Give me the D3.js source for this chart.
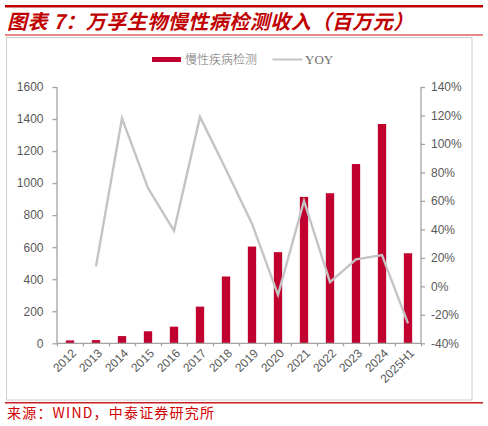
<!DOCTYPE html>
<html>
<head>
<meta charset="utf-8">
<script src="https://cdn.jsdelivr.net/npm/d3@7/dist/d3.min.js"></script>
<style>
  html, body { margin: 0; padding: 0; background: #fff; }
  svg { display: block; }
</style>
</head>
<body>
<svg id="chart" width="488" height="426"></svg>
<script>
// ---- data ----
const categories = ["2012","2013","2014","2015","2016","2017","2018","2019","2020","2021","2022","2023","2024","2025H1"];
const revenue = [18, 20, 45, 75, 104, 229, 417, 604, 569, 914, 937, 1119, 1369, 562];
const yoy = [null, 14, 118, 69, 39, 119, 82, 44, -6, 60, 3, 19, 22, -26];
const leftTicks = [0, 200, 400, 600, 800, 1000, 1200, 1400, 1600];
const rightTicks = [-40, -20, 0, 20, 40, 60, 80, 100, 120, 140];
const titleText = "图表 7：万孚生物慢性病检测收入（百万元）";
const sourceText = "来源：WIND，中泰证券研究所";
const legendBar = "慢性疾病检测";
const legendLine = "YOY";

const svg = d3.select("#chart");
const red = "#c0002f";
const titleRed = "#c00000";
const axisGray = "#a3a3a3";
const textGray = "#595959";

// header
svg.append("line").attr("x1", 5).attr("x2", 483).attr("y1", 6.3).attr("y2", 6.3)
  .attr("stroke", titleRed).attr("stroke-width", 2.4);
svg.append("line").attr("x1", 5).attr("x2", 483).attr("y1", 35).attr("y2", 35)
  .attr("stroke", "#d01010").attr("stroke-width", 1);
svg.append("text").attr("x", 7).attr("y", 29)
  .attr("font-family", "'Noto Sans CJK SC', sans-serif")
  .attr("font-size", 20).attr("font-weight", "bold").attr("font-style", "italic")
  .attr("fill", titleRed).attr("letter-spacing", 0.5)
  .text(titleText);

// frame
svg.append("rect").attr("x", 6.5).attr("y", 37.5).attr("width", 465.5).attr("height", 362.5)
  .attr("fill", "none").attr("stroke", "#cccccc").attr("stroke-width", 1);

// footer
svg.append("line").attr("x1", 5).attr("x2", 483).attr("y1", 402.7).attr("y2", 402.7)
  .attr("stroke", "#c82020").attr("stroke-width", 1.6);
svg.append("text").attr("x", 7).attr("y", 418)
  .attr("font-family", "'Noto Sans CJK SC', sans-serif")
  .attr("font-size", 14).attr("fill", "#d00000").attr("letter-spacing", 1.2)
  .text(sourceText);

// scales
const x = d3.scaleBand().domain(categories).range([57, 421]).paddingInner(0.68).paddingOuter(0.34);
const yL = d3.scaleLinear().domain([0, 1600]).range([343.3, 87]);
const yR = d3.scaleLinear().domain([-40, 140]).range([343.3, 87]);

// bars
svg.append("g").selectAll("rect").data(categories).join("rect")
  .attr("x", (d) => x(d))
  .attr("width", x.bandwidth())
  .attr("y", (d, i) => yL(revenue[i]))
  .attr("height", (d, i) => yL(0) - yL(revenue[i]))
  .attr("fill", red);

// line
const pts = categories.map((c, i) => ({c, v: yoy[i]}));
const line = d3.line().defined(d => d.v !== null)
  .x(d => x(d.c) + x.bandwidth() / 2).y(d => yR(d.v));
svg.append("path").datum(pts).attr("d", line)
  .attr("fill", "none").attr("stroke", "#c4c4c4").attr("stroke-width", 2.4)
  .attr("stroke-linejoin", "miter");

// left axis
const gL = svg.append("g").attr("transform", "translate(57,0)")
  .call(d3.axisLeft(yL).tickValues(leftTicks).tickSize(4.5).tickPadding(9).tickFormat(d3.format("d")));
// right axis
const gR = svg.append("g").attr("transform", "translate(421,0)")
  .call(d3.axisRight(yR).tickValues(rightTicks).tickSize(4).tickPadding(6).tickFormat(d => d + "%"));
// bottom axis
const bandEdges = categories.map(c => x(c) - x.step() * x.paddingInner() / 2).concat([421]);
const xEdge = d3.scaleLinear().domain([57, 421]).range([57, 421]);
const gB = svg.append("g").attr("transform", "translate(0,343.3)")
  .call(d3.axisBottom(xEdge).tickValues(bandEdges).tickSize(3).tickFormat(""));

[gL, gR, gB].forEach(g => {
  g.select(".domain").attr("stroke", axisGray).attr("stroke-width", 1.3);
  g.selectAll(".tick line").attr("stroke", axisGray).attr("stroke-width", 1.3);
  g.selectAll("text").attr("font-family", "'Liberation Sans', Arial, sans-serif")
    .attr("font-size", 12).attr("fill", textGray);
});
gB.select(".domain").attr("d", "M57,0H421");
gL.select(".domain").attr("d", "M0,87V343.3");
gR.select(".domain").attr("d", "M0,87V343.3");

// x labels rotated
svg.append("g").selectAll("text").data(categories).join("text")
  .attr("transform", d => `translate(${x(d) + x.bandwidth() / 2 + 4},${351}) rotate(-45)`)
  .attr("text-anchor", "end")
  .attr("dy", "0.35em")
  .attr("font-family", "'Liberation Sans', Arial, sans-serif")
  .attr("font-size", 12).attr("fill", textGray)
  .text(d => d);

// legend
const lg = svg.append("g");
lg.append("rect").attr("x", 152).attr("y", 57).attr("width", 29).attr("height", 5).attr("fill", red);
lg.append("text").attr("x", 185).attr("y", 64)
  .attr("font-family", "'Noto Sans CJK SC', sans-serif").attr("font-weight", 300)
  .attr("font-size", 12).attr("fill", "#707070").text(legendBar);
lg.append("line").attr("x1", 272.5).attr("x2", 302.5).attr("y1", 59.5).attr("y2", 59.5)
  .attr("stroke", "#c4c4c4").attr("stroke-width", 2);
lg.append("text").attr("x", 305).attr("y", 64)
  .attr("font-family", "'Liberation Serif', serif")
  .attr("font-size", 13).attr("fill", "#707070").text(legendLine);
</script>
</body>
</html>
